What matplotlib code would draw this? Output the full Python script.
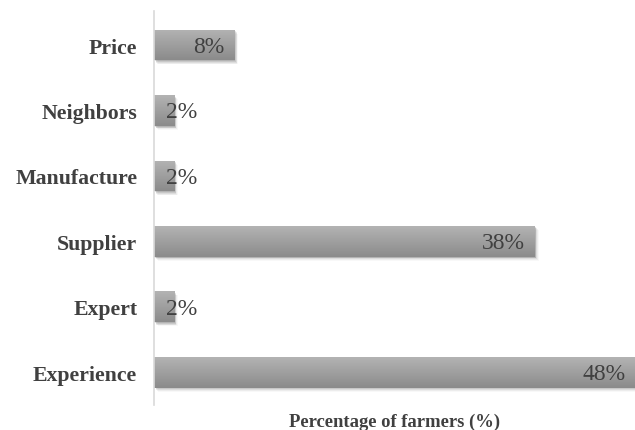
import numpy as np
import matplotlib
matplotlib.use('agg')
import matplotlib.pyplot as plt
from matplotlib.patches import Rectangle
import matplotlib.transforms as mtransforms

categories = ['Experience', 'Expert', 'Supplier', 'Manufacture', 'Neighbors', 'Price']
shares = [48, 2, 38, 2, 2, 8]
value_labels = ['48%', '2%', '38%', '2%', '2%', '8%']

plt.rcParams['font.family'] = ['Liberation Serif', 'DejaVu Serif']
text_color = '#404040'

fig = plt.figure(figsize=(6.35, 4.31), dpi=100)
ax = fig.add_axes([0.2425, 0.058, 0.7575, 0.914])

bar_h = 0.47
# vertical gradient for the bars, light on top, darker at the bottom
grad = np.linspace(0, 1, 64).reshape(-1, 1)
cmap = matplotlib.colors.LinearSegmentedColormap.from_list('bar', ['#8b8b8b', '#b3b3b3'])

for i, (v, lab) in enumerate(zip(shares, value_labels)):
    y0 = i - bar_h / 2
    # soft drop shadow
    for k, a in zip(range(5, 0, -1), [0.04, 0.07, 0.10, 0.14, 0.18]):
        off = mtransforms.offset_copy(ax.transData, fig=fig, x=k * 0.8, y=-k * 0.8, units='dots')
        ax.add_patch(Rectangle((0, y0), v, bar_h, facecolor='#555555', alpha=a,
                               edgecolor='none', transform=off, zorder=1))
    rect = Rectangle((0, y0), v, bar_h, facecolor='none', edgecolor='none', zorder=2)
    ax.add_patch(rect)
    im = ax.imshow(grad, extent=(0, v, y0, y0 + bar_h), cmap=cmap, aspect='auto',
                   origin='lower', zorder=2, interpolation='bilinear')
    im.set_clip_path(rect)
    if v > 5:
        ax.text(v - 0.95, i - 0.02, lab, ha='right', va='center', fontsize=17, color=text_color, zorder=3)
    else:
        ax.text(1.2, i - 0.02, lab, ha='left', va='center', fontsize=17, color=text_color, zorder=3)

ax.set_xlim(0, 48)
ax.set_ylim(-0.5, 5.52)
ax.set_yticks(range(len(categories)))
ax.set_yticklabels(categories, fontsize=15.7, fontweight='bold', color=text_color)
ax.tick_params(axis='y', length=0, pad=12)
ax.set_xticks([])
for s in ['top', 'right', 'bottom']:
    ax.spines[s].set_visible(False)
ax.spines['left'].set_color('#d9d9d9')
ax.spines['left'].set_linewidth(1.2)
ax.set_xlabel('Percentage of farmers (%)', fontsize=13.4, fontweight='bold', color=text_color, labelpad=5.5)

fig.savefig('out.png', dpi=100)
